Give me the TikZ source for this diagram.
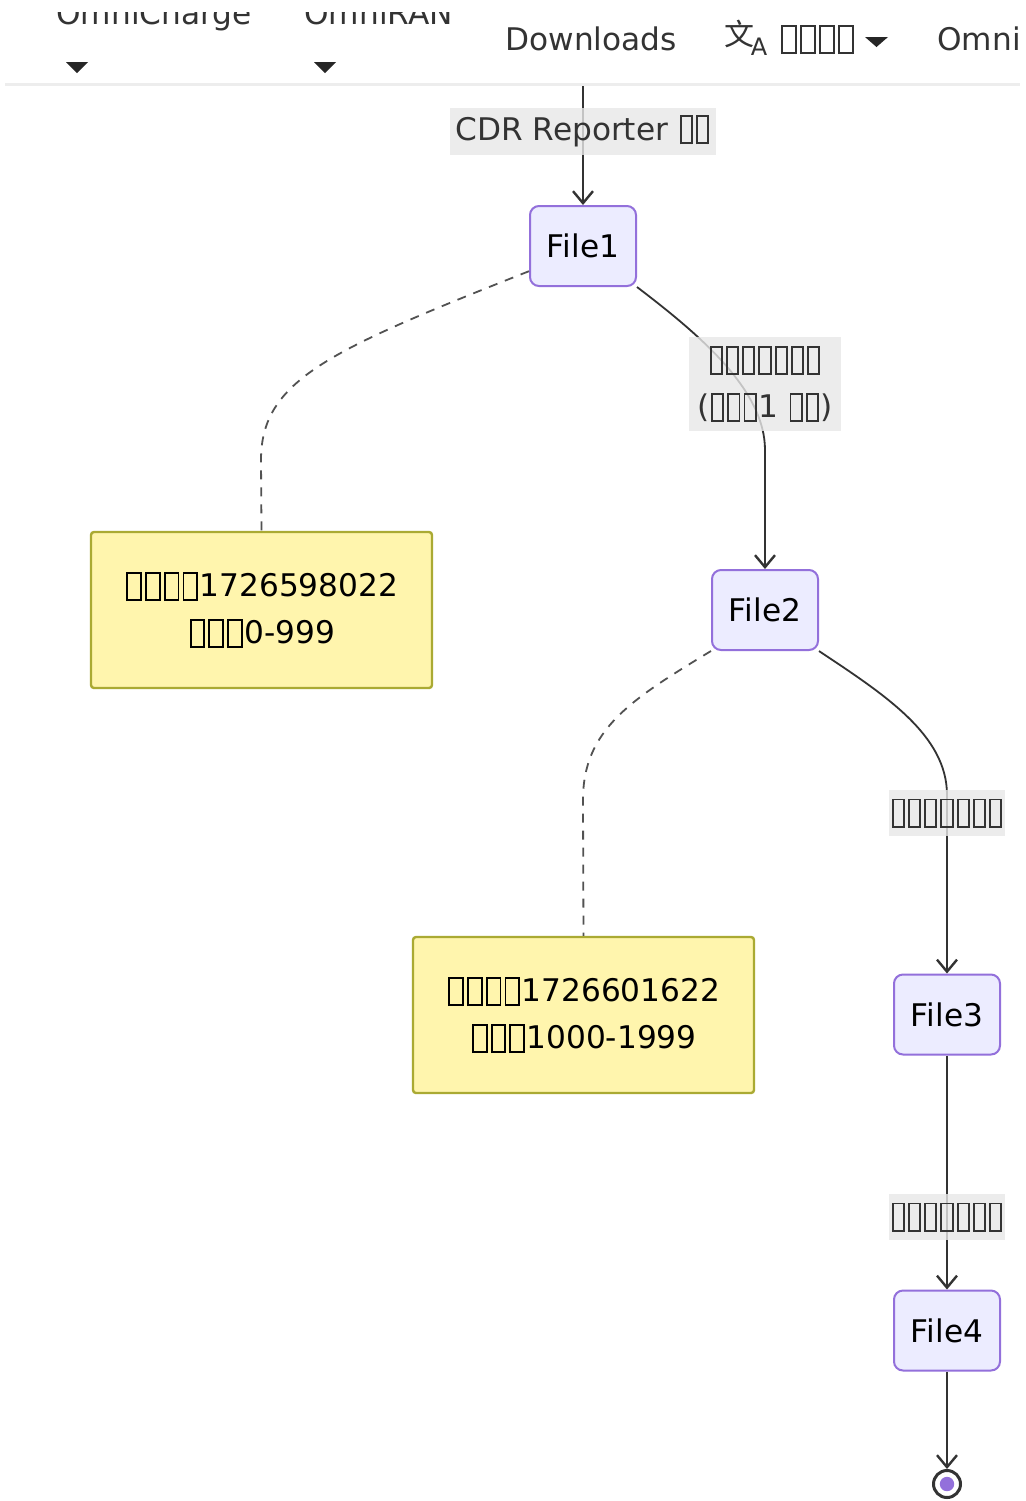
\documentclass[tikz,border=0pt]{standalone}
\usepackage{fontspec}
\setmainfont{DejaVu Sans}
\newfontfamily\cjk{Noto Sans CJK SC}
\usetikzlibrary{arrows.meta}
\definecolor{ink}{HTML}{333333}
\definecolor{nodefill}{HTML}{ECECFF}
\definecolor{nodedraw}{HTML}{9370DB}
\definecolor{notefill}{HTML}{FFF5AD}
\definecolor{notedraw}{HTML}{AAAA33}
\definecolor{lblfill}{HTML}{E8E8E8}
\definecolor{navline}{HTML}{EDEDED}
% missing-glyph box ("tofu"), advance given in em
\newcommand\tofubox[1][0.52]{\hbox to #1em{\hss\lower0.13em\hbox{\vrule width0.06em\vbox to0.93em{\hrule height0.06em width\dimexpr#1em-0.22em\relax\vfill\hrule height0.06em}\vrule width0.06em}\hss}}
\newcommand\tfl{\tofubox[0.52]}
\newcommand\tfn{\tofubox[0.6]}
\newcommand\tfh{\tofubox[0.61]}
\tikzset{
  filenode/.style={draw=nodedraw, fill=nodefill, line width=1pt, rounded corners=4.5pt,
    minimum width=53pt, minimum height=40pt, inner sep=0pt, text=black},
  notenode/.style={draw=notedraw, fill=notefill, line width=1.2pt, rounded corners=1.5pt,
    minimum width=170.5pt, minimum height=78pt, inner sep=0pt, align=center, text=black},
  edgelbl/.style={fill=lblfill, fill opacity=0.8, text opacity=1, text=ink, inner sep=0pt, align=center},
  flow/.style={draw=ink, line width=0.9pt, -{Straight Barb[length=6pt,width=10pt,line width=1.2pt]}},
  notelink/.style={draw=ink!85, line width=0.9pt, dash pattern=on 4.5pt off 4pt},
  navtext/.style={text=ink, inner sep=0pt, anchor=base west},
  caret/.style={fill=black!85},
  endstate/.style={circle, draw=ink, line width=1.5pt, fill=white, minimum size=13.5pt, inner sep=0pt},
}
\begin{document}
\begin{tikzpicture}[x=0.5pt, y=-0.5pt, font=\fontsize{15.6}{23.5}\selectfont]
\useasboundingbox (0,0) rectangle (1026,1501);
\fill[white] (0,0) rectangle (1026,1501);

% ---- navigation bar (partly cut off) ----
\begin{scope}
  \clip (0,12) rectangle (1026,84);
  \node[navtext] (nav1) at (56,24) {OmniCharge};
  \node[navtext] (nav2) at (304,24) {OmniRAN};
\end{scope}
\node[navtext] (nav3) at (505,50) {Downloads};
\node[text=ink, inner sep=0pt, font=\cjk\fontsize{15}{15}\selectfont] (navicon) at (739,34) {文};
\node[text=ink, inner sep=0pt, font=\fontsize{12}{12}\selectfont] (navicona) at (759,47) {A};
\node[navtext] (nav4) at (779,50) {\tfh\tfh\tfh\tfh};
\node[navtext] (nav5) at (937,50) {Omni};
\fill[caret] (66,62) -- (88,62) -- (77,73) -- cycle;
\fill[caret] (314,62) -- (336,62) -- (325,73) -- cycle;
\fill[caret] (865,37) -- (888,37) -- (876.5,47) -- cycle;
\draw[navline, line width=1.5pt] (5,84) -- (1020,84);

% ---- nodes ----
\coordinate (start) at (583,86);
\node[filenode] (f1) at (583,246) {File1};
\node[filenode] (f2) at (765,610) {File2};
\node[filenode] (f3) at (947,1014.5) {File3};
\node[filenode] (f4) at (947,1330.5) {File4};
\node[notenode] (n1) at (261.5,610) {\tfn\tfn\tfn\tfn1726598022\\\tfn\tfn\tfn0-999};
\node[notenode] (n2) at (583.5,1015) {\tfn\tfn\tfn\tfn1726601622\\\tfn\tfn\tfn1000-1999};
\node[endstate] (endc) at (947,1484) {};
\fill[nodedraw] (endc.center) circle[radius=3.6pt];

% ---- connectors ----
\draw[flow] (start) -- (f1.north);
\draw[flow] (f1.south east) .. controls (700,335) and (765,390) .. (765,450) -- (f2.north);
\draw[flow] (f2.south east) .. controls (885,695) and (947,735) .. (947,795) -- (f3.north);
\draw[flow] (f3.south) -- (f4.north);
\draw[flow] (f4.south) -- (endc.north);
\draw[notelink] (f1.205) .. controls (330,350) and (261,380) .. (261,460) -- (n1.north);
\draw[notelink] (f2.south west) .. controls (630,700) and (583,730) .. (583,800) -- (n2.north);

% ---- connector labels ----
\node[edgelbl, minimum width=133pt, minimum height=23.5pt] (l0) at (583,131) {CDR Reporter \tfl\tfl};
\node[edgelbl, minimum width=76pt, minimum height=47pt] (l1) at (765,384) {\tfl\tfl\tfl\tfl\tfl\tfl\tfl\\(\tfl\tfl\tfl1 \tfl\tfl)};
\node[edgelbl, minimum width=58pt, minimum height=23pt] (l2) at (947,813) {\tfl\tfl\tfl\tfl\tfl\tfl\tfl};
\node[edgelbl, minimum width=58pt, minimum height=23pt] (l3) at (947,1217) {\tfl\tfl\tfl\tfl\tfl\tfl\tfl};
\end{tikzpicture}
\end{document}
